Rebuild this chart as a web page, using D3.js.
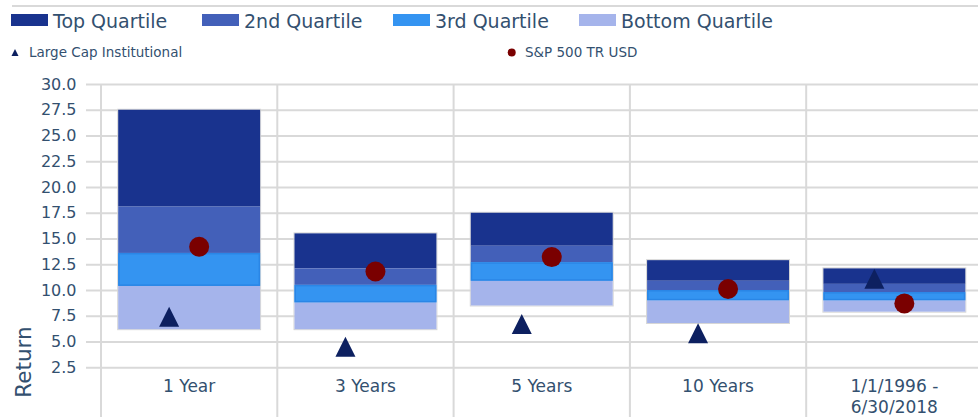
<!DOCTYPE html>
<html>
<head>
<meta charset="utf-8">
<script src="https://cdn.jsdelivr.net/npm/d3@7"></script>
<style>
  html, body { margin: 0; padding: 0; background: #ffffff; }
  svg { display: block; font-family: "DejaVu Sans", sans-serif; }
</style>
</head>
<body>
<svg id="chart" width="978" height="417"></svg>
<script>
// ---- data ----
const categories = ["1 Year", "3 Years", "5 Years", "10 Years", "1/1/1996 -\n6/30/2018"];
// quartile boundaries (bottom of bottom quartile ... top of top quartile)
const lowVals    = [6.2, 6.2, 8.5, 6.8, 7.9];
const q3Vals     = [10.4, 8.8, 10.9, 9.0, 9.0];
const medianVals = [13.6, 10.5, 12.7, 10.0, 9.8];
const q1Vals     = [18.1, 12.1, 14.3, 10.9, 10.6];
const highVals   = [27.5, 15.5, 17.5, 12.9, 12.1];
const largeCapInst = [7.4, 4.5, 6.7, 5.8, 11.1];
const sp500TR      = [14.2, 11.8, 13.2, 10.1, 8.7];
const yTicks = [2.5, 5, 7.5, 10, 12.5, 15, 17.5, 20, 22.5, 25, 27.5, 30];
const quartileNames = ["Top Quartile", "2nd Quartile", "3rd Quartile", "Bottom Quartile"];
const quartileColors = ["#19338e", "#4360b9", "#3494f1", "#a5b4eb"];
const seriesNames = ["Large Cap Institutional", "S&P 500 TR USD"];

// ---- setup ----
const svg = d3.select("#chart");
const textColor = "#33506f";
const gridColor = "#d9d9d9";

const x = d3.scaleBand().domain(categories).range([101, 982.5])
  .paddingInner(0.195).paddingOuter(0.0975);
const step = x.step();
const y = d3.scaleLinear().domain([2.5, 30]).range([367.3, 84]);

// top separator line
svg.append("line").attr("x1", 12).attr("x2", 978).attr("y1", 6).attr("y2", 6)
  .attr("stroke", gridColor).attr("stroke-width", 2);

// horizontal grid + y labels
const yAxis = d3.axisLeft(y).tickValues(yTicks).tickFormat(d3.format(".1f"))
  .tickSizeInner(-(978 - 86)).tickSizeOuter(0).tickPadding(9.5);
const gy = svg.append("g").attr("transform", "translate(86,0)").call(yAxis);
gy.select(".domain").remove();
gy.selectAll(".tick line").attr("stroke", gridColor).attr("stroke-width", 2);
gy.selectAll(".tick text").attr("fill", textColor).attr("font-size", 16)
  .attr("font-family", "DejaVu Sans, sans-serif");

// vertical category separators
const bounds = categories.map(c => x(c) - step * x.paddingInner() / 2);
svg.append("g").selectAll("line").data(bounds).join("line")
  .attr("x1", d => d).attr("x2", d => d)
  .attr("y1", y(30)).attr("y2", 417)
  .attr("stroke", gridColor).attr("stroke-width", 2);

// y title
svg.append("text").attr("transform", `translate(31,362) rotate(-90)`)
  .attr("text-anchor", "middle").attr("fill", textColor).attr("font-size", 21.5)
  .text("Return");

// category labels
const xl = svg.append("g").selectAll("text").data(categories).join("text")
  .attr("text-anchor", "middle").attr("fill", textColor).attr("font-size", 17)
  .attr("x", d => x(d) + x.bandwidth() / 2).attr("y", 392);
xl.each(function(d) {
  const lines = d.split("\n");
  d3.select(this).selectAll("tspan").data(lines).join("tspan")
    .attr("x", x(d) + x.bandwidth() / 2)
    .attr("dy", (l, i) => i === 0 ? 0 : 21)
    .text(l => l);
});

// stacked quartile bars
const segs = [];
categories.forEach((c, i) => {
  const b = [lowVals[i], q3Vals[i], medianVals[i], q1Vals[i], highVals[i]];
  segs.push({ c, q: 0, lo: b[3], hi: b[4] });
  segs.push({ c, q: 1, lo: b[2], hi: b[3] });
  segs.push({ c, q: 2, lo: b[1], hi: b[2] });
  segs.push({ c, q: 3, lo: b[0], hi: b[1] });
});
svg.append("g").selectAll("rect.outline").data(categories).join("rect")
  .attr("x", d => x(d) - 0.5).attr("width", x.bandwidth() + 1)
  .attr("y", (d, i) => y(highVals[i]) - 0.5)
  .attr("height", (d, i) => y(lowVals[i]) - y(highVals[i]) + 1)
  .attr("fill", "none").attr("stroke", "#d6d6d6").attr("stroke-width", 1);
svg.append("g").selectAll("rect").data(segs).join("rect")
  .attr("x", d => x(d.c)).attr("width", x.bandwidth())
  .attr("y", d => y(d.hi)).attr("height", d => y(d.lo) - y(d.hi))
  .attr("fill", d => quartileColors[d.q]);
// 3rd quartile border
svg.append("g").selectAll("rect").data(segs.filter(s => s.q === 2)).join("rect")
  .attr("x", d => x(d.c) + 0.75).attr("width", x.bandwidth() - 1.5)
  .attr("y", d => y(d.hi) + 0.75).attr("height", d => y(d.lo) - y(d.hi) - 1.5)
  .attr("fill", "none").attr("stroke", "#2a86e6").attr("stroke-width", 1.5);

// markers
function triPath(cx, cy, s) {
  const p = d3.path();
  p.moveTo(cx, cy - s / 2); p.lineTo(cx + s / 2, cy + s / 2); p.lineTo(cx - s / 2, cy + s / 2); p.closePath();
  return p.toString();
}
const cx = c => x(c) + x.bandwidth() / 2;
svg.append("g").selectAll("path").data(categories).join("path")
  .attr("d", (c, i) => triPath(cx(c) - 20, y(largeCapInst[i]), 20))
  .attr("fill", "#0d2060");
svg.append("g").selectAll("circle").data(categories).join("circle")
  .attr("cx", c => cx(c) + 10).attr("cy", (c, i) => y(sp500TR[i])).attr("r", 10)
  .attr("fill", "#7a0000");

// legend row 1
const legX = [11, 202, 393, 579];
const lg = svg.append("g").selectAll("g").data(quartileNames).join("g")
  .attr("transform", (d, i) => `translate(${legX[i]},0)`);
lg.append("rect").attr("x", 0).attr("y", 14).attr("width", 37).attr("height", 12)
  .attr("fill", (d, i) => quartileColors[i]);
lg.append("text").attr("x", 42).attr("y", 27.5).attr("font-size", 19)
  .attr("fill", textColor).text(d => d);

// legend row 2
const l2 = svg.append("g");
l2.append("path").attr("d", triPath(15, 52.5, 7)).attr("fill", "#0d2060");
l2.append("text").attr("x", 29).attr("y", 57.3).attr("font-size", 13.5)
  .attr("fill", textColor).text(seriesNames[0]);
l2.append("circle").attr("cx", 511.7).attr("cy", 52.5).attr("r", 4).attr("fill", "#7a0000");
l2.append("text").attr("x", 525).attr("y", 57.3).attr("font-size", 13.5)
  .attr("fill", textColor).text(seriesNames[1]);
</script>
</body>
</html>
